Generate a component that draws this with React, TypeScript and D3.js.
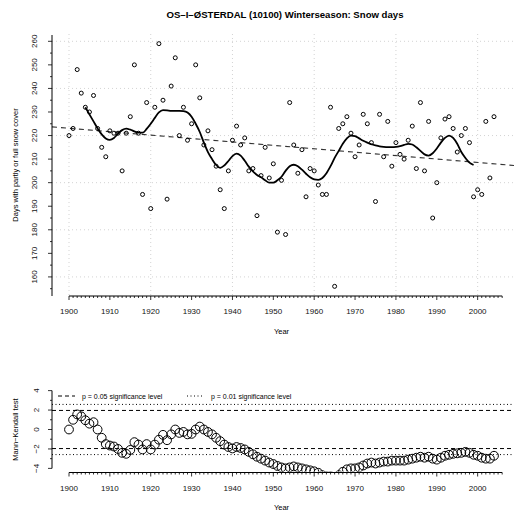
import React from 'react';
import * as d3 from 'd3';

const firstYear = 1900;

// days with partly or full snow cover, one value per year from 1900
const snowDays = [
  220, 223, 248, 238, 232, 230, 237, 223, 215, 211,
  222, 221, 221, 205, 221, 228, 250, 221, 195, 234,
  189, 232, 259, 235, 193, 241, 253, 220, 232, 218,
  225, 250, 236, 216, 222, 214, 207, 197, 189, 205,
  218, 224, 216, 219, 205, 206, 186, 203, 215, 202,
  208, 179, 201, 178, 234, 216, 204, 214, 194, 206,
  205, 199, 195, 195, 232, 156, 223, 225, 228, 221,
  211, 216, 229, 225, 217, 192, 229, 211, 226, 207,
  217, 212, 210, 218, 224, 206, 234, 205, 226, 185,
  200, 219, 227, 228, 223, 213, 220, 223, 217, 194,
  197, 195, 226, 202, 228
];

// smoothed curve, from 1904 to 1999
const smoothFirstYear = 1904;
const smoothValues = [
  232, 229, 226, 223, 220.5, 218.8, 218.2, 219, 220.8, 222.3,
  222.9, 222.5, 221.8, 221.2, 221.2, 222.8, 225, 227.5, 229.8, 230.8,
  230.7, 230.5, 230.5, 230.5, 230.4, 229.8, 228, 225, 221.5, 217,
  213, 210, 207.5, 206.3, 207.3, 209.2, 211.3, 212.3, 211.5, 209.3,
  206.8, 204.8, 203.3, 202.3, 201, 200, 200, 201, 202.5, 205,
  207, 207.6, 207, 205.5, 203.8, 202.3, 201.4, 201.2, 202, 204,
  207, 210.5, 213.5, 216.5, 218.8, 220, 219.8, 218.8, 217.8, 217,
  216.3, 215.8, 215.4, 215.2, 215.1, 215.1, 215.2, 215.5, 216, 216.5,
  216.2, 215, 213.5, 212, 211.5, 212.5, 214.5, 217, 219, 220,
  219, 216.5, 213, 210.5, 208.5, 207.5
];

// linear trend, two end points [year, days]
const trendPoints: [number, number][] = [[1895.84, 223.7], [2008.16, 207.4]];

// Mann-Kendall statistic, one value per year from 1900
const mannKendall = [
  0, 1.0, 1.55, 1.35, 0.95, 0.6, 0.75, 0, -0.85, -1.5,
  -1.65, -1.75, -2.0, -2.4, -2.5, -2.1, -1.3, -1.55, -2.05, -1.5,
  -2.05, -1.55, -1.05, -0.55, -1.1, -0.5, 0, -0.35, -0.25, -0.5,
  -0.45, 0, 0.3, 0, -0.25, -0.5, -0.85, -1.2, -1.55, -1.8,
  -1.95, -1.8, -1.9, -2.05, -2.3, -2.55, -2.8, -3.0, -3.2, -3.4,
  -3.55, -3.75, -3.9, -4.0, -3.9, -3.8, -3.9, -4.0, -4.1, -4.2,
  -4.3, -4.45, -4.7, -4.8, -4.8, -4.9, -4.7, -4.35, -4.1, -4.0,
  -4.0, -3.9, -3.7, -3.5, -3.4, -3.5, -3.4, -3.3, -3.3, -3.2,
  -3.2, -3.2, -3.2, -3.1, -3.0, -2.9, -2.8, -2.9, -2.8, -3.0,
  -3.1, -2.9, -2.7, -2.6, -2.5, -2.45, -2.4, -2.3, -2.4, -2.6,
  -2.7, -2.9, -3.0, -3.0, -2.7
];

const yearTicks = [1900, 1910, 1920, 1930, 1940, 1950, 1960, 1970, 1980, 1990, 2000];
const yearGrid = [1900, 1920, 1940, 1960, 1980, 2000];
const daysTicks = [160, 170, 180, 190, 200, 210, 220, 230, 240, 250, 260];
const daysGrid = [160, 180, 200, 220, 240, 260];
const mkTicks = [-4, -2, 0, 2, 4];
const sigLevels = [
  { label: 'p = 0.05 significance level', z: 1.96, dash: '4,3' },
  { label: 'p = 0.01 significance level', z: 2.58, dash: '1,2.5' }
];

const W = 514;
const H = 512;
const font = '"Liberation Sans", Arial, Helvetica, sans-serif';

export default function App() {
  const left = 52;
  const right = 511;
  const xDomain: [number, number] = [1895.84, 2008.16];
  const x = d3.scaleLinear().domain(xDomain).range([left, right]);

  const top1 = 34, bottom1 = 296;
  const y1 = d3.scaleLinear().domain([151.9, 263.1]).range([bottom1, top1]);
  const top2 = 387.5, bottom2 = 471.5;
  const y2 = d3.scaleLinear().domain([-4.32, 4.32]).range([bottom2, top2]);

  const minorYears = d3.range(1900, 2007);
  const minorDays = d3.range(155, 265, 5);
  const minorMk = d3.range(-4, 5, 1);

  const smoothLine = d3.line<number>()
    .x((_, i) => x(smoothFirstYear + i))
    .y(d => y1(d))
    .curve(d3.curveMonotoneX);

  const trendAt = (yr: number) =>
    trendPoints[0][1] + (trendPoints[1][1] - trendPoints[0][1]) * (yr - trendPoints[0][0]) / (trendPoints[1][0] - trendPoints[0][0]);

  const xAxis = (yPos: number) => (
    <g>
      <line x1={x(1900)} x2={x(2006)} y1={yPos} y2={yPos} stroke="#000" />
      {minorYears.map(yr => (
        <line key={yr} x1={x(yr)} x2={x(yr)} y1={yPos} y2={yPos + (yr % 10 === 0 ? 4 : 2)} stroke="#000" strokeWidth={0.8} />
      ))}
      {yearTicks.map(yr => (
        <text key={yr} x={x(yr)} y={yPos + 18} textAnchor="middle" fontSize={8} fill="#111">{yr}</text>
      ))}
    </g>
  );

  return (
    <svg width={W} height={H} style={{ position: 'absolute', left: 0, top: 0, background: '#fff' }} fontFamily={font}>
      <defs>
        <clipPath id="clip1"><rect x={left} y={top1} width={W - left} height={bottom1 - top1} /></clipPath>
        <clipPath id="clip2"><rect x={left} y={top2} width={W - left} height={bottom2 - top2} /></clipPath>
      </defs>

      <text x={W / 2 + 28} y={18} textAnchor="middle" fontSize={9.6} fontWeight="bold">
        OS–I–ØSTERDAL (10100) Winterseason: Snow days
      </text>

      {/* upper panel */}
      <g>
        {yearGrid.map(yr => (
          <line key={yr} x1={x(yr)} x2={x(yr)} y1={top1} y2={bottom1} stroke="#c8c8c8" strokeDasharray="1,3" strokeWidth={0.8} />
        ))}
        {daysGrid.map(v => (
          <line key={v} x1={left} x2={W} y1={y1(v)} y2={y1(v)} stroke="#c8c8c8" strokeDasharray="1,3" strokeWidth={0.8} />
        ))}
        <g clipPath="url(#clip1)">
          <line x1={x(trendPoints[0][0])} y1={y1(trendPoints[0][1])} x2={W} y2={y1(trendAt(x.invert(W)))}
            stroke="#333" strokeWidth={1.1} strokeDasharray="5,4" />
        </g>
        <path d={smoothLine(smoothValues) || ''} fill="none" stroke="#000" strokeWidth={1.8} />
        {snowDays.map((v, i) => (
          <circle key={i} cx={x(firstYear + i)} cy={y1(v)} r={2} fill="none" stroke="#000" strokeWidth={1} />
        ))}

        <line x1={left} x2={left} y1={top1 + 1} y2={bottom1} stroke="#000" />
        {minorDays.map(v => (
          <line key={v} x1={left - (v % 10 === 0 ? 4 : 2)} x2={left} y1={y1(v)} y2={y1(v)} stroke="#000" strokeWidth={0.8} />
        ))}
        {daysTicks.map(v => (
          <text key={v} transform={`translate(${left - 15},${y1(v)}) rotate(-90)`} textAnchor="middle" fontSize={8} fill="#111">{v}</text>
        ))}
        {xAxis(bottom1)}
        <text x={(left + right) / 2} y={334} textAnchor="middle" fontSize={7.5}>Year</text>
        <text transform={`translate(18,${(top1 + bottom1) / 2}) rotate(-90)`} textAnchor="middle" fontSize={7.5}>
          Days with partly or full snow cover
        </text>
      </g>

      {/* lower panel */}
      <g>
        {sigLevels.map(s => (
          <g key={s.label}>
            <line x1={left} x2={W} y1={y2(s.z)} y2={y2(s.z)} stroke="#000" strokeWidth={1} strokeDasharray={s.dash} />
            <line x1={left} x2={W} y1={y2(-s.z)} y2={y2(-s.z)} stroke="#000" strokeWidth={1} strokeDasharray={s.dash} />
          </g>
        ))}
        {sigLevels.map((s, i) => (
          <g key={s.label} transform={`translate(${58 + i * 129},396)`}>
            <line x1={0} x2={17} y1={0} y2={0} stroke="#000" strokeDasharray={s.dash} />
            <text x={24} y={2.5} fontSize={7}>{s.label}</text>
          </g>
        ))}
        <g clipPath="url(#clip2)">
          {mannKendall.map((v, i) => (
            <circle key={i} cx={x(firstYear + i)} cy={y2(v)} r={4.4} fill="none" stroke="#000" strokeWidth={1} />
          ))}
        </g>
        <line x1={left} x2={left} y1={y2(4)} y2={y2(-4)} stroke="#000" />
        {minorMk.map(v => (
          <line key={v} x1={left - (v % 2 === 0 ? 4 : 2)} x2={left} y1={y2(v)} y2={y2(v)} stroke="#000" strokeWidth={0.8} />
        ))}
        {mkTicks.map(v => (
          <text key={v} transform={`translate(${left - 13},${y2(v)}) rotate(-90)`} textAnchor="middle" fontSize={8} fill="#111">
            {v < 0 ? `−${-v}` : v}
          </text>
        ))}
        {xAxis(bottom2 + 1)}
        <text x={(left + right) / 2} y={510} textAnchor="middle" fontSize={7.5}>Year</text>
        <text transform={`translate(18,${(top2 + bottom2) / 2}) rotate(-90)`} textAnchor="middle" fontSize={7.5}>
          Mann−Kendall test
        </text>
      </g>
    </svg>
  );
}
